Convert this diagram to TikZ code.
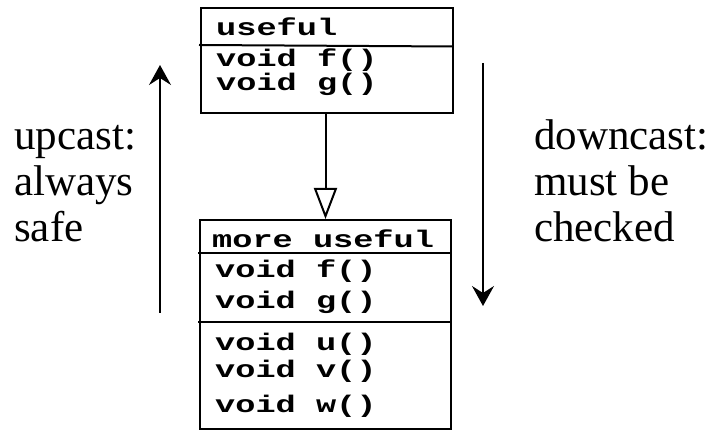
\documentclass[tikz,border=0pt]{standalone}
\usepackage{fontspec}
\setmainfont{Liberation Serif}
\newfontfamily\codefont{Liberation Mono}[FakeStretch=1.4]
\usetikzlibrary{arrows.meta}
\tikzset{
  classbox/.style={draw, line width=2pt, inner sep=0pt, minimum width=#1},
  divider/.style={line width=2pt},
  code/.style={font=\codefont\bfseries\fontsize{24}{24}\selectfont, anchor=base west, inner sep=0pt, text height=15pt, text depth=4pt},
  label/.style={font=\fontsize{43}{46}\selectfont, align=left, anchor=base west, inner sep=0pt},
  castarrow/.style={line width=1.8pt, -{Stealth[length=20pt, width=22pt, inset=7pt]}},
  inherit/.style={line width=2pt, -{Triangle[open, length=31pt, width=23pt, line width=2pt]}}
}
\begin{document}
\begin{tikzpicture}[x=1pt, y=-1pt]
\useasboundingbox (0,0) rectangle (710,430);
% boxes
\node[classbox=252pt, minimum height=105pt] (top) at (327,60.5) {};
\node[classbox=251pt, minimum height=209pt] (bot) at (325.5,324.5) {};
% dividers
\draw[divider] (199,45) -- (453,46.5);
\draw[divider] (198,253) -- (451,253);
\draw[divider] (198,322) -- (451,322);
% texts in top box
\node[code] (tname) at (216,36) {useful};
\node[code] (tf) at (216,67) {void f()};
\node[code] (tg) at (216,91) {void g()};
% texts in bottom box
\node[code] (bname) at (212,248) {more useful};
\node[code] (bf) at (215,278) {void f()};
\node[code] (bg) at (215,309) {void g()};
\node[code] (bu) at (215,351) {void u()};
\node[code] (bv) at (215,378) {void v()};
\node[code] (bw) at (215,413) {void w()};
% inheritance
\draw[inherit] (top.south -| bot.north) -- (bot.north);
% cast arrows
\coordinate (upS) at (160,313);
\coordinate (upE) at (160,65);
\coordinate (dnS) at (483,63);
\coordinate (dnE) at (483,306);
\draw[castarrow] (upS) -- (upE);
\draw[castarrow] (dnS) -- (dnE);
% labels
\node[label] (up) at (14,242) {upcast:\\always\\safe};
\node[label] (down) at (534,242) {downcast:\\must be\\checked};
\end{tikzpicture}
\end{document}
